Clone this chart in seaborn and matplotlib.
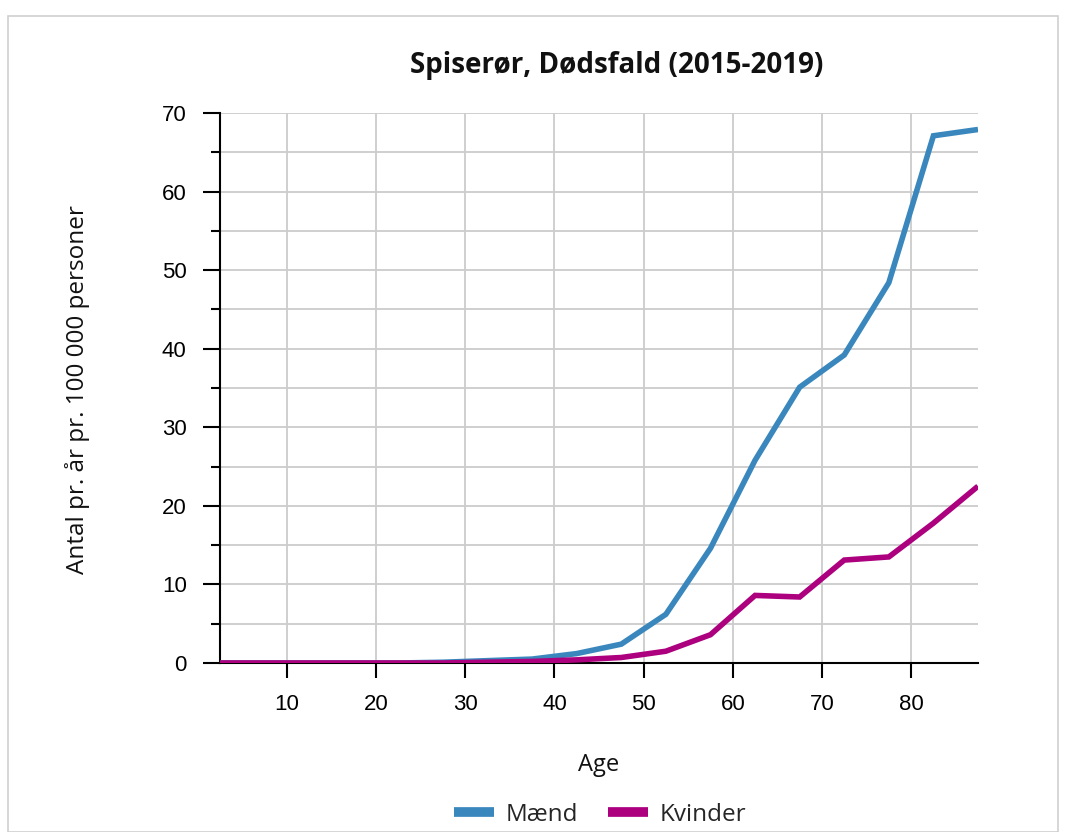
import matplotlib
matplotlib.use("Agg")
import matplotlib.pyplot as plt
import seaborn as sns
import pandas as pd
import numpy as np
from matplotlib.patches import Rectangle
from matplotlib.lines import Line2D

ages = [2.5, 7.5, 12.5, 17.5, 22.5, 27.5, 32.5, 37.5, 42.5, 47.5, 52.5, 57.5, 62.5, 67.5, 72.5, 77.5, 82.5, 87.5]
maend = [0.0, 0.0, 0.0, 0.0, 0.0, 0.1, 0.3, 0.5, 1.2, 2.4, 6.2, 14.6, 25.8, 35.1, 39.2, 48.4, 67.1, 67.9]
kvinder = [0.0, 0.0, 0.0, 0.0, 0.0, 0.0, 0.1, 0.2, 0.4, 0.7, 1.5, 3.6, 8.6, 8.4, 13.1, 13.5, 17.8, 22.5]
series_names = ["Mænd", "Kvinder"]
colors = ["#3a87bd", "#ac007e"]
title = "Spiserør, Dødsfald (2015-2019)"
xlabel = "Age"
ylabel = "Antal pr. år pr. 100 000 personer"

df = pd.DataFrame({
    "Age": ages * 2,
    "value": maend + kvinder,
    "Køn": [series_names[0]] * len(ages) + [series_names[1]] * len(ages),
})

sns.set_theme(style="white")
plt.rcParams["font.family"] = ["Liberation Sans", "DejaVu Sans"]

fig = plt.figure(figsize=(10.74, 8.32), dpi=100)
fig.patch.set_facecolor("white")

# card border
card = Rectangle((8 / 1074, 0), (1058 - 8) / 1074, 1 - 16 / 832, transform=fig.transFigure,
                 facecolor="none", edgecolor="#d0d0d0", linewidth=1.2, zorder=-1)
fig.patches.append(card)

ax = fig.add_axes([220 / 1074, 1 - 663 / 832, (978 - 220) / 1074, (663 - 113) / 832])
ax.set_facecolor("white")

sns.lineplot(data=df, x="Age", y="value", hue="Køn", palette=colors, linewidth=4,
             ax=ax, legend=False, zorder=3)
for ln in ax.lines:
    ln.set_solid_capstyle("butt")
    ln.set_solid_joinstyle("miter")
    ln.set_clip_on(True)

ax.set_xlim(2.5, 87.5)
ax.set_ylim(0, 70)
ax.set_xticks(range(10, 90, 10))
ax.set_yticks(range(0, 80, 10))
ax.set_yticks(range(5, 70, 10), minor=True)
ax.grid(True, which="major", axis="both", color="#cccccc", linewidth=1.3, zorder=0)
ax.grid(True, which="minor", axis="y", color="#cccccc", linewidth=1.3, zorder=0)
ax.set_axisbelow(True)

for s in ["top", "right"]:
    ax.spines[s].set_visible(False)
for s in ["left", "bottom"]:
    ax.spines[s].set_color("black")
    ax.spines[s].set_linewidth(1.5)

ax.tick_params(axis="y", which="major", direction="out", length=12.5, width=1.5, color="black",
               labelsize=16, labelcolor="black", left=True, pad=11.5)
ax.tick_params(axis="x", which="major", direction="out", length=11, width=1.5, color="black",
               labelsize=16, labelcolor="black", bottom=True, pad=11)
ax.tick_params(axis="y", which="minor", direction="out", length=6.5, width=1.5, color="black", left=True)

ax.set_xlabel("")
ax.set_ylabel("")

fig.text(617 / 1074, 1 - 66 / 832, title, ha="center", va="center", fontsize=20,
         fontweight="bold", family=["Open Sans", "DejaVu Sans"], color="#111111")
fig.text(599 / 1074, 1 - 765 / 832, xlabel, ha="center", va="center", fontsize=17,
         family=["Open Sans", "DejaVu Sans"], color="#111111")
fig.text(78 / 1074, 1 - 390 / 832, ylabel, ha="center", va="center", rotation=90, fontsize=17.5,
         family=["Open Sans", "DejaVu Sans"], color="#111111")

handles = [Line2D([0], [0], color=c, linewidth=7, solid_capstyle="butt") for c in colors]
fig.legend(handles, series_names, loc="center", bbox_to_anchor=(600 / 1074, 1 - 815 / 832),
           ncol=2, frameon=False, handlelength=1.65, columnspacing=1.2, handletextpad=0.5,
           prop={"family": ["Open Sans", "DejaVu Sans"], "size": 17.5})

fig.savefig("out.png", dpi=100, facecolor="white")
